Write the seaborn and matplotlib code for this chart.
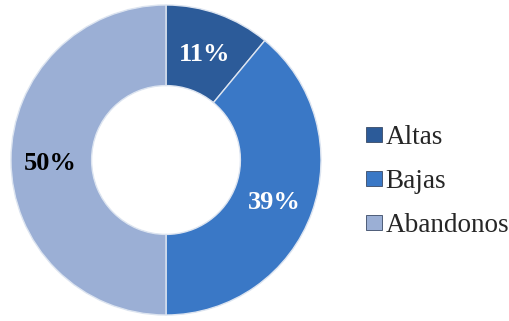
import matplotlib
matplotlib.use("Agg")
import matplotlib.pyplot as plt
from matplotlib.patches import Patch
import numpy as np
import seaborn as sns

categories = ["Altas", "Bajas", "Abandonos"]
values = [11, 39, 50]
label_texts = ["11%", "39%", "50%"]

sns.set_style("white")
plt.rcParams['font.family'] = ['Liberation Serif', 'DejaVu Serif']

colors = ["#2C5B99", "#3A78C6", "#9BAFD5"]
text_colors = ["white", "white", "black"]

fig = plt.figure(figsize=(5.09, 3.21), dpi=100)
ax = fig.add_axes([11/509, 6/321, 310/509, 310/321])

wedges, _ = ax.pie(values, colors=colors, startangle=90, counterclock=False,
                   radius=1.0, wedgeprops=dict(width=0.52, edgecolor="#DCE4F0", linewidth=1.0))

start = 90.0
total = sum(values)
for v, t, c in zip(values, label_texts, text_colors):
    mid = start - v / total * 360 / 2
    start -= v / total * 360
    r = 0.745
    ax.text(r * np.cos(np.radians(mid)), r * np.sin(np.radians(mid)) - 0.02, t,
            ha="center", va="center", fontsize=19, fontweight="bold", color=c)

ax.set_xlim(-1, 1)
ax.set_ylim(-1, 1)
ax.set_aspect("equal")
ax.axis("off")

handles = [Patch(facecolor=c, edgecolor="#3A4A66", linewidth=0.6) for c in colors]
fig.legend(handles, categories, loc="center left", bbox_to_anchor=(366/509, 0.434),
           frameon=False, fontsize=19.5, handlelength=0.6, handleheight=0.5,
           handletextpad=0.12, labelspacing=0.70, borderpad=0, borderaxespad=0)

fig.savefig("out.png", dpi=100)
